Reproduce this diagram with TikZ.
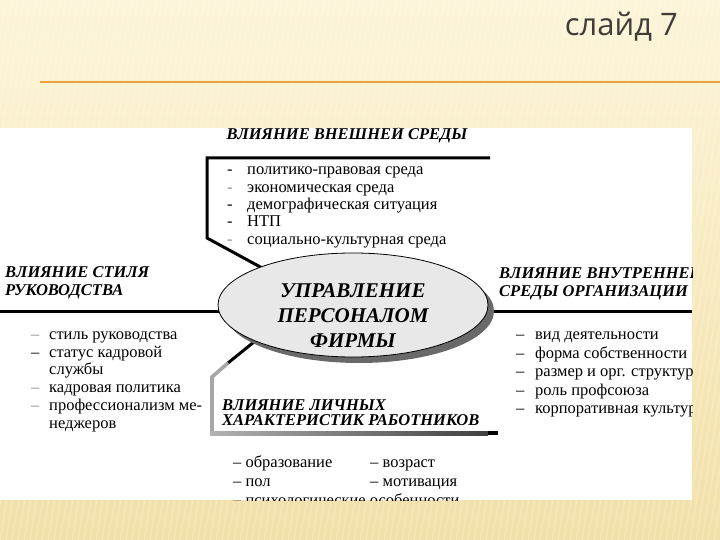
\documentclass[tikz,border=0pt]{standalone}
\usepackage{fontspec}
\setmainfont{Liberation Serif}
\newfontfamily\titlefont{Open Sans}
\usetikzlibrary{shapes.geometric}
\pgfdeclarelayer{back}
\pgfdeclarelayer{bg}
\pgfsetlayers{back,bg,main}
\definecolor{bgtop}{RGB}{253,245,217}
\definecolor{bgbot}{RGB}{242,224,168}
\definecolor{orangeline}{RGB}{234,162,62}
\definecolor{titlegray}{RGB}{64,60,56}
\definecolor{ellfill}{RGB}{232,232,232}
\definecolor{shadowgray}{RGB}{105,105,105}
\tikzset{
  head/.style={font=\bfseries\itshape\fontsize{16.5}{16.5}\selectfont, inner sep=0pt, anchor=base west},
  item/.style={font=\fontsize{16.5}{16.5}\selectfont, inner sep=0pt, anchor=base west},
  dashmark/.style={font=\fontsize{16.5}{16.5}\selectfont, inner sep=0pt, anchor=base west},
  faded/.style={text=black!45},
  thickline/.style={line width=3pt, black},
}
\begin{document}
\begin{tikzpicture}[x=1pt,y=-1pt]
\useasboundingbox (0,0) rectangle (720,540);
\begin{pgfonlayer}{back}
% slide background
\fill[top color=bgtop, bottom color=bgbot] (0,0) rectangle (720,540);
\foreach \x in {-120,-114,...,720} {
  \draw[white, opacity=0.22, line width=1.4pt] (\x,540) -- ++(90,-540);
}
% white panel
\fill[white] (0,128) rectangle (692,500);
\end{pgfonlayer}
% title and rule
\node[anchor=base east, font=\titlefont\fontsize{31}{33}\selectfont, text=titlegray, inner sep=0pt] (title) at (678,36) {слайд 7};
\coordinate (ruleL) at (40,82);
\coordinate (ruleR) at (720,82);
\draw[orangeline, line width=2pt] (ruleL) -- (ruleR);
\begin{scope}
\clip (0,128) rectangle (692,500);
% central ellipse
\node[ellipse, draw=black, line width=0.8pt, fill=ellfill, minimum width=270pt, minimum height=104pt, inner sep=0pt] (core) at (353,305) {};
\node[font=\bfseries\itshape\fontsize{21}{25}\selectfont, align=center, inner sep=0pt] (coretxt) at (353,316) {УПРАВЛЕНИЕ\\ПЕРСОНАЛОМ\\ФИРМЫ};
% connectors and shadow under the ellipse
\coordinate (topR) at (490,158);
\coordinate (topC) at (207,158);
\coordinate (topB) at (207,238);
\coordinate (topE) at (275,275);
\coordinate (leftS) at (0,311);
\coordinate (rightS) at (692,311);
\coordinate (botE) at (265,333);
\coordinate (botA) at (228,363);
\coordinate (botC) at (212,377);
\coordinate (botD) at (212,433);
\begin{pgfonlayer}{bg}
\draw[thickline, line join=miter] (topR) -- (topC) -- (topB) -- (topE);
\draw[thickline] (leftS) -- (leftS -| core.center);
\draw[thickline] (rightS) -- (rightS -| core.center);
\draw[thickline] (botE) -- (botA);
\fill[shadowgray] ([shift={(6,6)}]core.center) ellipse [x radius=135, y radius=52];
\end{pgfonlayer}
% lower bracket (grey, shaded)
\draw[black!35, line width=3.6pt, line join=miter] (botA) -- (botC) -- (botD);
\shade[left color=black!30, right color=black!75] (210.2,431) rectangle (488,435);
\fill[black] (488,431) rectangle (498,435);
% headings
\node[head, anchor=base] (hext) at (347,140) {ВЛИЯНИЕ ВНЕШНЕЙ СРЕДЫ};
\node[head] (hstyle1) at (5,277) {ВЛИЯНИЕ СТИЛЯ};
\node[head] (hstyle2) at (5,295) {РУКОВОДСТВА};
\node[head] (hint1) at (499,278) {ВЛИЯНИЕ ВНУТРЕННЕЙ};
\node[head] (hint2) at (499,296) {СРЕДЫ ОРГАНИЗАЦИИ};
\node[head] (hpers1) at (222,410) {ВЛИЯНИЕ ЛИЧНЫХ};
\node[head] (hpers2) at (222,425) {ХАРАКТЕРИСТИК РАБОТНИКОВ};
% top list
\node[dashmark] (td1) at (227,175) {-};
\node[dashmark, faded] (td2) at (227,192.3) {-};
\node[dashmark] (td3) at (227,209.6) {-};
\node[dashmark] (td4) at (227,226.9) {-};
\node[dashmark, faded] (td5) at (227,244.2) {-};
\node[item] (t1) at (247,175) {политико-правовая среда};
\node[item] (t2) at (247,192.3) {экономическая среда};
\node[item] (t3) at (247,209.6) {демографическая ситуация};
\node[item] (t4) at (247,226.9) {НТП};
\node[item] (t5) at (247,244.2) {социально-культурная среда};
% left list
\node[dashmark, faded] (ld1) at (31,339) {–};
\node[dashmark] (ld2) at (31,357) {–};
\node[dashmark, faded] (ld4) at (31,392.5) {–};
\node[dashmark, faded] (ld5) at (31,410.5) {–};
\node[item] (l1) at (49,339) {стиль руководства};
\node[item] (l2) at (49,357) {статус кадровой};
\node[item] (l3) at (49,374.7) {службы};
\node[item] (l4) at (49,392.5) {кадровая политика};
\node[item] (l5) at (49,410.5) {профессионализм ме-};
\node[item] (l6) at (49,428.5) {неджеров};
% right list
\node[dashmark] (rd1) at (516,339.5) {–};
\node[dashmark] (rd2) at (516,358) {–};
\node[dashmark] (rd3) at (516,376.5) {–};
\node[dashmark] (rd4) at (516,395) {–};
\node[dashmark] (rd5) at (516,413.5) {–};
\node[item] (r1) at (535,339.5) {вид деятельности};
\node[item] (r2) at (535,358) {форма собственности};
\node[item] (r3) at (535,376.5) {размер и орг. структура};
\node[item] (r4) at (535,395) {роль профсоюза};
\node[item] (r5) at (535,413.5) {корпоративная культура};
% bottom list
\node[item] (b1) at (233,467) {– образование};
\node[item] (b2) at (370,467) {– возраст};
\node[item] (b3) at (233,486) {– пол};
\node[item] (b4) at (370,486) {– мотивация};
\node[item] (b5) at (233,505) {– психологические особенности};
\end{scope}
\end{tikzpicture}
\end{document}
